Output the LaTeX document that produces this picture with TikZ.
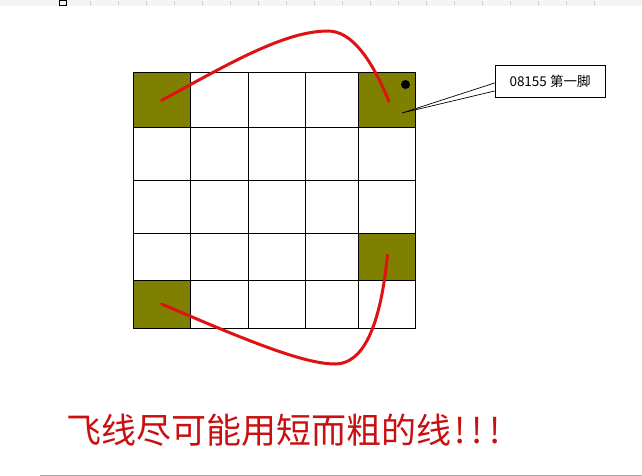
\documentclass[tikz,border=0pt]{standalone}
\usepackage{fontspec}
\newfontfamily\cjk{Noto Sans CJK SC}
\usetikzlibrary{positioning}
\definecolor{pad_olive}{RGB}{128,128,0}
\definecolor{wire_red}{RGB}{222,18,18}
\definecolor{note_red}{RGB}{200,16,16}
\definecolor{ruler_gray}{RGB}{241,245,245}
\tikzset{
        % Grid cells
        cell/.style={rectangle, draw=black, line width=1pt, fill=white, inner sep=0pt},
        % Cells with a pad
        cell_pad/.style={cell, fill=pad_olive},
        % Red wires
        wire/.style={wire_red, line width=3pt, line cap=round},
        % Callout box
        note_box/.style={rectangle, draw=black, line width=0.8pt, fill=white, inner sep=0pt,
                minimum width=110pt, minimum height=32pt, font=\cjk\fontsize{13.5}{15}\selectfont}
}

\begin{document}
\begin{tikzpicture}[x=1pt, y=-1pt]
            \useasboundingbox (0,0) rectangle (642,476);
            % screen ruler
            \fill[ruler_gray] (0,0) rectangle (642,6);
            \foreach \t in {90,118,...,620} \draw[gray!40, line width=0.6pt] (\t,1) -- (\t,5);
            \draw[line width=0.8pt] (59,0) rectangle (66.5,5);
            \draw[gray!70, line width=1.5pt] (40,475.5) -- (642,475.5);
            % grid
            \foreach \r/\ya/\yb in {0/73/128,1/128/180,2/180/233,3/233/280,4/280/328}
                \foreach \c/\xa/\xb in {0/133/190,1/190/248,2/248/305,3/305/358,4/358/415}
                    \node[cell, minimum width={(\xb-\xa)*1pt}, minimum height={(\yb-\ya)*1pt}]
                        (c\r\c) at ({(\xa+\xb)/2},{(\ya+\yb)/2}) {};
            \node[cell_pad, minimum width=57pt, minimum height=55pt] at (c00) {};
            \node[cell_pad, minimum width=57pt, minimum height=55pt] at (c04) {};
            \node[cell_pad, minimum width=57pt, minimum height=47pt] at (c34) {};
            \node[cell_pad, minimum width=57pt, minimum height=48pt] at (c40) {};
            \node[circle, fill=black, inner sep=0pt, minimum size=9pt] (pin1) at (405.5,84.5) {};
            % wires
            \draw[wire] (c00.center) .. controls (230,63) and (285,31) .. (328,31)
                .. controls (352,31) and (372,60) .. ([xshift=2.5pt,yshift=-1pt]c04.center);
            \draw[wire] (c40.center) .. controls (230,333) and (300,364) .. (335,364)
                .. controls (362,364) and (380,330) .. ([xshift=1pt,yshift=1.5pt]c34.center);
            % callout
            \node[note_box] (note) at (550,81) {08155 第一脚};
            \coordinate (tip) at (402,113);
            \fill[white] ([yshift=-2pt]note.west) -- (tip) -- ([yshift=-10pt]note.west) -- cycle;
            \draw[line width=0.7pt] ([yshift=-2pt]note.west) -- (tip) -- ([yshift=-10pt]note.west);
            % remark
            \node[note_red, font=\cjk\fontsize{35}{40}\selectfont, inner sep=0pt] (remark) at (285,430)
                {飞线尽可能用短而粗的线\makebox[0.5em]{!}\makebox[0.5em]{!}\makebox[0.5em]{!}};
        \end{tikzpicture}
\end{document}
